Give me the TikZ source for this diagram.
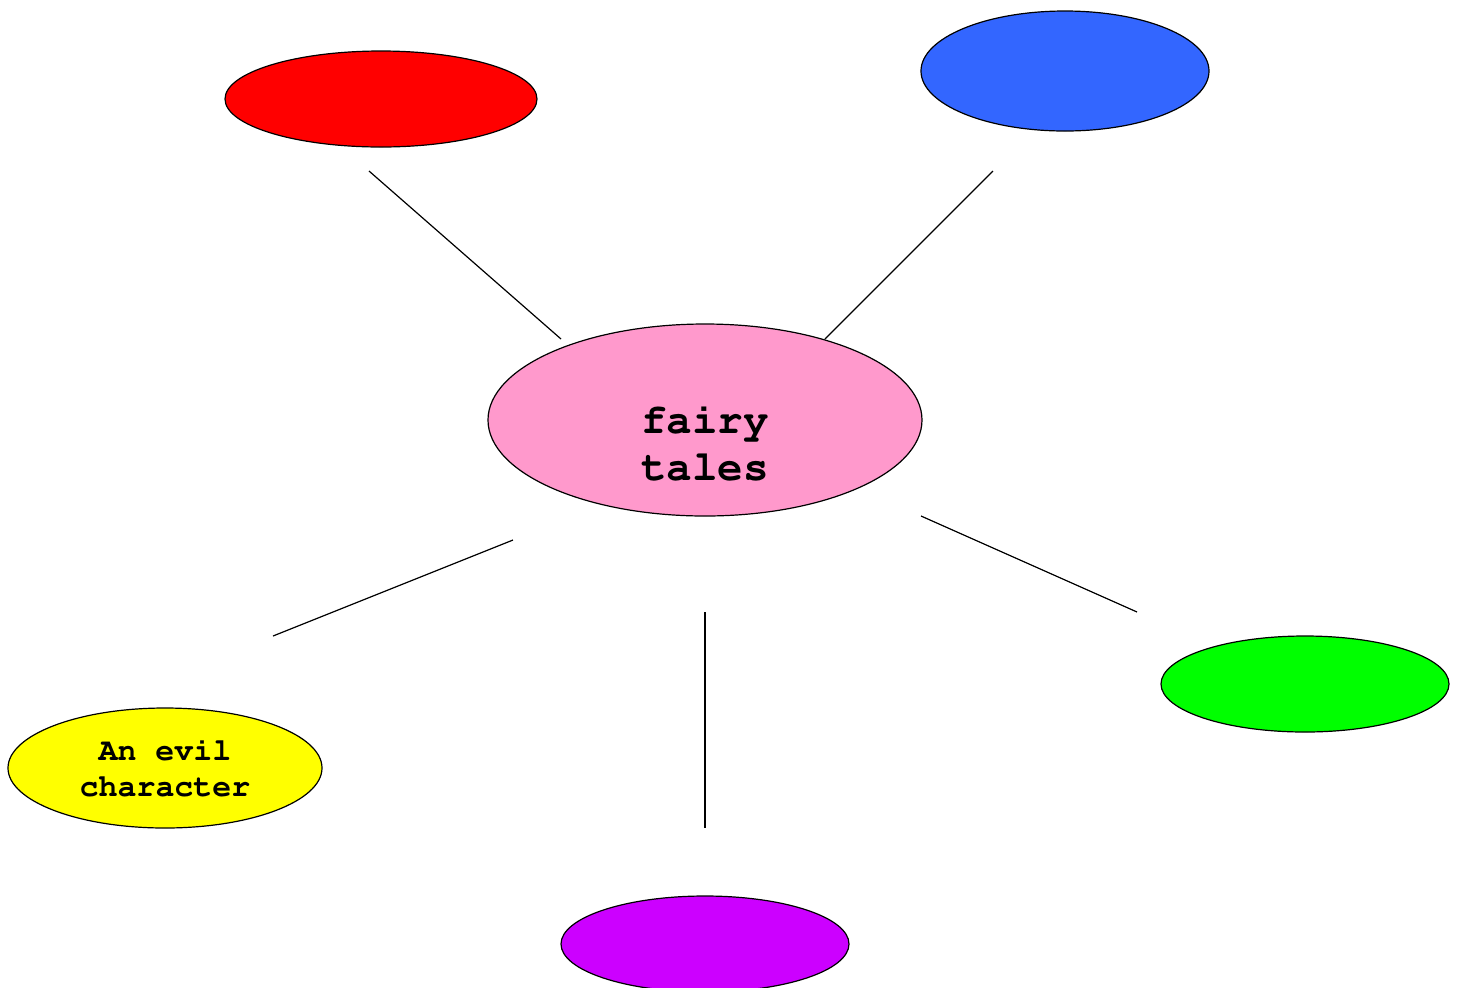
\documentclass[tikz,border=0pt]{standalone}
\usepackage[T1]{fontenc}
\renewcommand{\ttdefault}{pcr}
\usetikzlibrary{shapes.geometric}
\definecolor{topicpink}{HTML}{FF99CC}
\definecolor{bubblered}{HTML}{FF0000}
\definecolor{bubbleblue}{HTML}{3366FF}
\definecolor{bubbleyellow}{HTML}{FFFF00}
\definecolor{bubblepurple}{HTML}{CC00FF}
\definecolor{bubblegreen}{HTML}{00FF00}
\tikzset{bubble/.style = {ellipse, draw, line width=0.6pt, inner sep=0pt,
                          align=center, font=\ttfamily\bfseries},
         spoke/.style = {line width=0.6pt}}

\begin{document}
\begin{tikzpicture}[x=0.5pt, y=-0.5pt]
    \useasboundingbox (0, 0) rectangle (1458, 987);
    \node [bubble, fill=topicpink, minimum width=217pt, minimum height=96pt]
          (tales) at (705, 420) {};
    \node [align=center, inner sep=0pt,
           font=\ttfamily\bfseries\fontsize{21.3}{23.5}\selectfont]
          (talestext) at (705, 443) {fairy\\tales};
    \node [bubble, fill=bubblered, minimum width=156pt, minimum height=48pt]
          (red) at (381, 99) {};
    \node [bubble, fill=bubbleblue, minimum width=144pt, minimum height=60pt]
          (blue) at (1065, 71) {};
    \node [bubble, fill=bubbleyellow, minimum width=157pt, minimum height=60pt,
           font=\ttfamily\bfseries\fontsize{15.8}{18}\selectfont]
          (evil) at (165, 768) {An evil\\character};
    \node [bubble, fill=bubblepurple, minimum width=144pt, minimum height=48pt]
          (purple) at (705, 944) {};
    \node [bubble, fill=bubblegreen, minimum width=144pt, minimum height=48pt]
          (green) at (1305, 684) {};
    % spoke ends
    \coordinate (redend) at (369, 171);
    \coordinate (redstart) at (561, 339);
    \coordinate (blueend) at (993, 171);
    \coordinate (bluestart) at (825, 339);
    \coordinate (evilstart) at (513, 540);
    \coordinate (evilend) at (273, 636);
    \coordinate (purplestart) at (705, 612);
    \coordinate (purpleend) at (705, 828);
    \coordinate (greenstart) at (921, 516);
    \coordinate (greenend) at (1137, 612);
    \draw [spoke] (redstart) -- (redend);
    \draw [spoke] (bluestart) -- (blueend);
    \draw [spoke] (evilstart) -- (evilend);
    \draw [spoke] (purplestart) -- (purpleend);
    \draw [spoke] (greenstart) -- (greenend);
\end{tikzpicture}
\end{document}
